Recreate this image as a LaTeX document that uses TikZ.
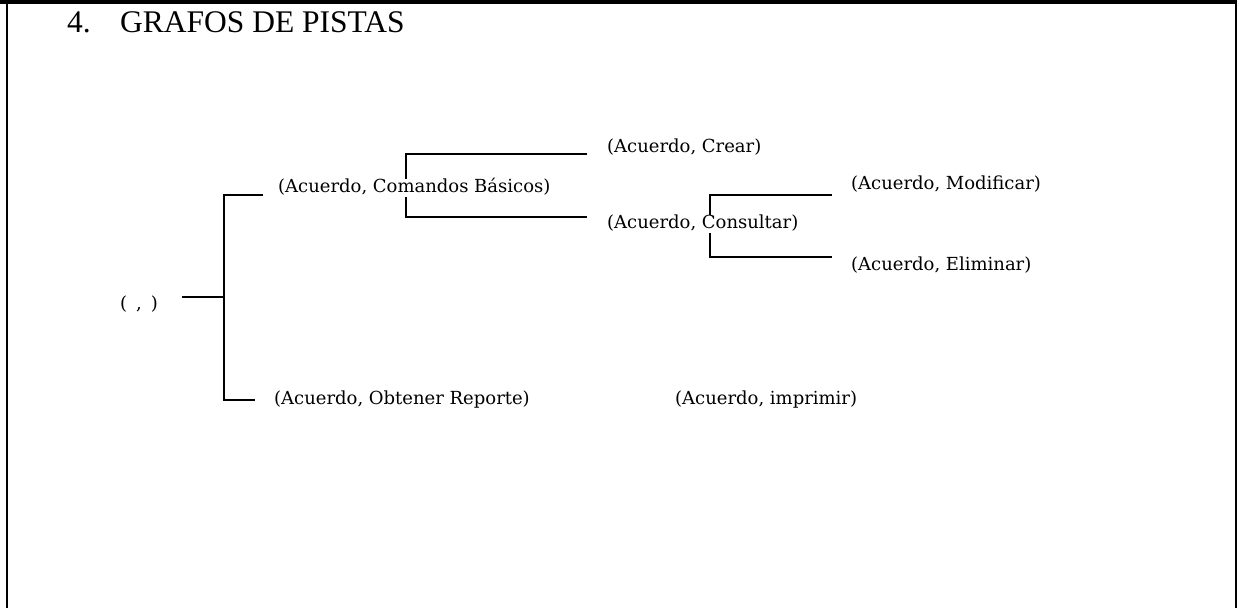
\documentclass[tikz,border=0pt]{standalone}
\usepackage{fontspec}
\setmainfont{Liberation Serif}
\newfontfamily\diagfont{DejaVu Serif}
\usetikzlibrary{backgrounds}
\begin{document}
\begin{tikzpicture}[x=1pt,y=-1pt,
  lbl/.style={anchor=west,fill=white,inner sep=0pt,
    font=\diagfont\fontsize{18}{20}\selectfont,text height=13pt,text depth=4.5pt},
  ttl/.style={anchor=base west,inner sep=0pt,font=\fontsize{31.5}{36}\selectfont},
  link/.style={line width=1.6pt},
  framel/.style={line width=2pt}]
\useasboundingbox (0,0) rectangle (1237,608);
% frame
\fill (0,0) rectangle (1237,3.5);
\draw[framel] (6.5,2) -- (6.5,608);
\draw[framel] (1236,2) -- (1236,608);
% title
\node[ttl] (num) at (67,32) {4.};
\node[ttl] (title) at (120,32) {GRAFOS DE PISTAS};
% labels
\node[lbl] (root) at (120,305) {(\hspace{9pt},\hspace{9pt})};
\node[lbl] (cb) at (278,188) {(Acuerdo, Comandos Básicos)};
\node[lbl] (crear) at (607,148) {(Acuerdo, Crear)};
\node[lbl] (cons) at (607,224) {(Acuerdo, Consultar)};
\node[lbl] (mod) at (851,185) {(Acuerdo, Modificar)};
\node[lbl] (elim) at (851,266) {(Acuerdo, Eliminar)};
\node[lbl] (obt) at (274,400) {(Acuerdo, Obtener Reporte)};
\node[lbl] (impr) at (675,400) {(Acuerdo, imprimir)};
% connector points
\coordinate (r0) at (182,297);
\coordinate (j0) at (224,297);
\coordinate (cbin) at (263,195);
\coordinate (obin) at (255,400);
\coordinate (crin) at (587,154);
\coordinate (coin) at (587,217);
\coordinate (j1) at (406,188);
\coordinate (moin) at (832,195);
\coordinate (elin) at (832,257);
\coordinate (j2) at (710,226);
\begin{scope}[on background layer]
\draw[link] (r0) -- (j0);
\draw[link] (cbin) -- (cbin -| j0) -- (obin -| j0) -- (obin);
\draw[link] (crin) -- (crin -| j1) -- (coin -| j1) -- (coin);
\draw[link] (moin) -- (moin -| j2) -- (elin -| j2) -- (elin);
\end{scope}
\end{tikzpicture}
\end{document}
